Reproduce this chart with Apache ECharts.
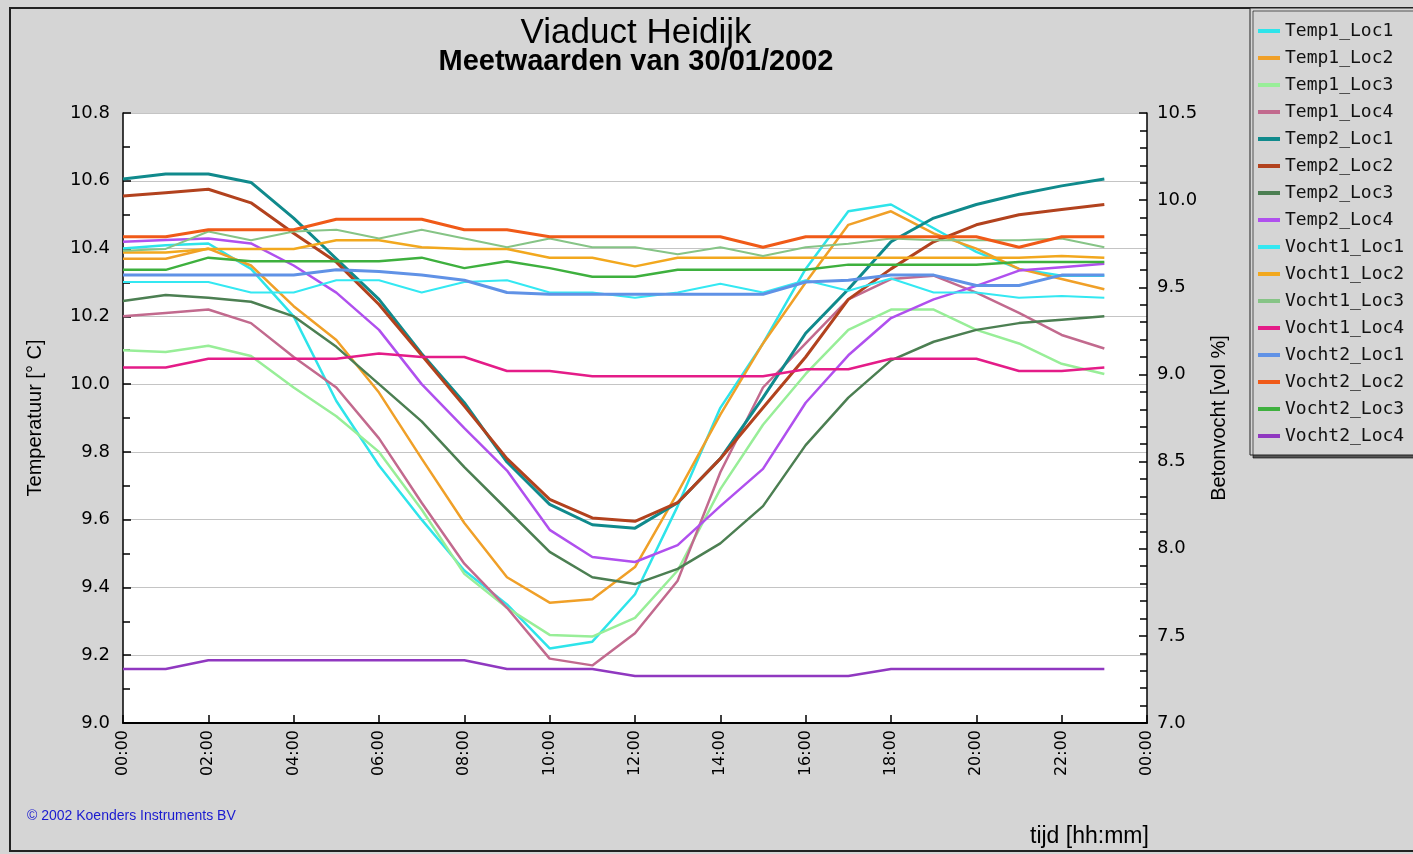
<!DOCTYPE html>
<html lang="nl">
<head>
    <meta charset="UTF-8">
    <title>Viaduct Heidijk</title>
    <style>
        body { margin: 0; background: #d5d5d5; }
        #chart { width: 1413px; height: 854px; }
    </style>
</head>
<body>
    <div id="chart"></div>
    <script src="https://cdn.jsdelivr.net/npm/echarts@6.0.0/dist/echarts.min.js"></script>
    <script>
        // uren 0..23 (meetpunten)
        var hours = [0, 1, 2, 3, 4, 5, 6, 7, 8, 9, 10, 11, 12, 13, 14, 15, 16, 17, 18, 19, 20, 21, 22, 23];

        // temperatuur [° C] - linker as
        var temp1Loc1 = [10.40, 10.41, 10.415, 10.34, 10.20, 9.95, 9.76, 9.60, 9.45, 9.35, 9.22, 9.24, 9.38, 9.64, 9.93, 10.12, 10.34, 10.51, 10.53, 10.46, 10.39, 10.34, 10.32, 10.32];
        var temp1Loc2 = [10.37, 10.37, 10.40, 10.35, 10.23, 10.13, 9.975, 9.78, 9.59, 9.43, 9.355, 9.365, 9.46, 9.68, 9.91, 10.12, 10.30, 10.47, 10.51, 10.445, 10.40, 10.34, 10.31, 10.28];
        var temp1Loc3 = [10.10, 10.095, 10.113, 10.083, 9.99, 9.905, 9.80, 9.63, 9.44, 9.34, 9.26, 9.255, 9.31, 9.45, 9.69, 9.88, 10.03, 10.16, 10.22, 10.22, 10.16, 10.12, 10.06, 10.03];
        var temp1Loc4 = [10.20, 10.21, 10.22, 10.18, 10.08, 9.99, 9.84, 9.65, 9.47, 9.34, 9.19, 9.17, 9.265, 9.42, 9.74, 9.99, 10.12, 10.25, 10.31, 10.32, 10.27, 10.21, 10.145, 10.105];
        var temp2Loc1 = [10.605, 10.62, 10.62, 10.595, 10.49, 10.37, 10.25, 10.09, 9.945, 9.77, 9.645, 9.585, 9.575, 9.65, 9.78, 9.96, 10.15, 10.28, 10.42, 10.49, 10.53, 10.56, 10.585, 10.605];
        var temp2Loc2 = [10.555, 10.565, 10.575, 10.535, 10.445, 10.36, 10.235, 10.085, 9.935, 9.78, 9.66, 9.605, 9.595, 9.65, 9.78, 9.93, 10.08, 10.25, 10.34, 10.42, 10.47, 10.50, 10.515, 10.53];
        var temp2Loc3 = [10.245, 10.263, 10.255, 10.243, 10.20, 10.11, 10.0, 9.89, 9.755, 9.63, 9.505, 9.43, 9.41, 9.455, 9.53, 9.64, 9.82, 9.96, 10.07, 10.125, 10.16, 10.18, 10.19, 10.20];
        var temp2Loc4 = [10.42, 10.425, 10.43, 10.415, 10.35, 10.27, 10.16, 10.0, 9.87, 9.745, 9.57, 9.49, 9.475, 9.525, 9.64, 9.75, 9.945, 10.085, 10.195, 10.25, 10.29, 10.335, 10.345, 10.355];

        // betonvocht [vol %] - rechter as
        var vocht1Loc1 = [9.53, 9.53, 9.53, 9.47, 9.47, 9.54, 9.54, 9.47, 9.53, 9.54, 9.47, 9.47, 9.44, 9.47, 9.52, 9.47, 9.54, 9.48, 9.55, 9.47, 9.47, 9.44, 9.45, 9.44];
        var vocht1Loc2 = [9.70, 9.70, 9.72, 9.72, 9.72, 9.77, 9.77, 9.73, 9.72, 9.72, 9.67, 9.67, 9.62, 9.67, 9.67, 9.67, 9.67, 9.67, 9.67, 9.67, 9.67, 9.67, 9.68, 9.67];
        var vocht1Loc3 = [9.71, 9.72, 9.82, 9.77, 9.82, 9.83, 9.78, 9.83, 9.78, 9.73, 9.78, 9.73, 9.73, 9.69, 9.73, 9.68, 9.73, 9.75, 9.78, 9.77, 9.77, 9.77, 9.78, 9.73];
        var vocht1Loc4 = [9.04, 9.04, 9.09, 9.09, 9.09, 9.09, 9.12, 9.10, 9.10, 9.02, 9.02, 8.99, 8.99, 8.99, 8.99, 8.99, 9.03, 9.03, 9.09, 9.09, 9.09, 9.02, 9.02, 9.04];
        var vocht2Loc1 = [9.57, 9.57, 9.57, 9.57, 9.57, 9.60, 9.59, 9.57, 9.54, 9.47, 9.46, 9.46, 9.46, 9.46, 9.46, 9.46, 9.53, 9.54, 9.57, 9.57, 9.51, 9.51, 9.57, 9.57];
        var vocht2Loc2 = [9.79, 9.79, 9.83, 9.83, 9.83, 9.89, 9.89, 9.89, 9.83, 9.83, 9.79, 9.79, 9.79, 9.79, 9.79, 9.73, 9.79, 9.79, 9.79, 9.79, 9.79, 9.73, 9.79, 9.79];
        var vocht2Loc3 = [9.60, 9.60, 9.67, 9.65, 9.65, 9.65, 9.65, 9.67, 9.61, 9.65, 9.61, 9.56, 9.56, 9.60, 9.60, 9.60, 9.60, 9.63, 9.63, 9.63, 9.63, 9.645, 9.645, 9.645];
        var vocht2Loc4 = [7.31, 7.31, 7.36, 7.36, 7.36, 7.36, 7.36, 7.36, 7.36, 7.31, 7.31, 7.31, 7.27, 7.27, 7.27, 7.27, 7.27, 7.27, 7.31, 7.31, 7.31, 7.31, 7.31, 7.31];

        var seriesNames = ['Temp1_Loc1', 'Temp1_Loc2', 'Temp1_Loc3', 'Temp1_Loc4', 'Temp2_Loc1', 'Temp2_Loc2', 'Temp2_Loc3', 'Temp2_Loc4',
            'Vocht1_Loc1', 'Vocht1_Loc2', 'Vocht1_Loc3', 'Vocht1_Loc4', 'Vocht2_Loc1', 'Vocht2_Loc2', 'Vocht2_Loc3', 'Vocht2_Loc4'];
        var seriesValues = [temp1Loc1, temp1Loc2, temp1Loc3, temp1Loc4, temp2Loc1, temp2Loc2, temp2Loc3, temp2Loc4,
            vocht1Loc1, vocht1Loc2, vocht1Loc3, vocht1Loc4, vocht2Loc1, vocht2Loc2, vocht2Loc3, vocht2Loc4];
        var seriesColors = ['#2ee4ea', '#f0a028', '#98ee98', '#c26a8e', '#108a8c', '#b2421e', '#4c7f52', '#b050ee',
            '#34e8f2', '#f2a81e', '#86c486', '#e41c88', '#6092e6', '#f05a18', '#3eb03e', '#9038c0'];
        var seriesWidths = [2.5, 2.5, 2.5, 2.5, 3, 3, 2.5, 2.5, 2, 2.5, 2, 2.5, 3, 3, 2.5, 2.5];

        var series = seriesNames.map(function (name, i) {
            return {
                name: name,
                type: 'line',
                yAxisIndex: name.indexOf('Vocht') === 0 ? 1 : 0,
                showSymbol: false,
                animation: false,
                color: seriesColors[i],
                lineStyle: { width: seriesWidths[i], color: seriesColors[i] },
                data: seriesValues[i].map(function (v, k) { return [hours[k], v]; })
            };
        });

        function pad(n) { return (n < 10 ? '0' : '') + n; }

        var font = 'DejaVu Sans';
        var mCharts = echarts.init(document.getElementById('chart'));
        var option = {
            backgroundColor: '#d5d5d5',
            title: {
                text: 'Viaduct Heidijk',
                subtext: 'Meetwaarden van 30/01/2002',
                left: 636,
                top: 16,
                textAlign: 'center',
                padding: 0,
                itemGap: -4,
                textStyle: { fontFamily: 'Liberation Sans', fontSize: 35, fontWeight: 'normal', color: '#000' },
                subtextStyle: { fontFamily: 'Liberation Sans', fontSize: 29, fontWeight: 'bold', color: '#000' }
            },
            legend: {
                orient: 'vertical',
                left: 1250,
                top: 8,
                padding: [14, 12, 10, 8],
                itemGap: 9,
                itemWidth: 22,
                itemHeight: 4,
                itemTextGap: 6,
                icon: 'rect',
                backgroundColor: '#d5d5d5',
                borderColor: '#222',
                borderWidth: 1,
                shadowColor: 'rgba(0,0,0,0.6)',
                shadowOffsetX: 3,
                shadowOffsetY: 3,
                shadowBlur: 0,
                selectedMode: false,
                textStyle: { fontFamily: 'DejaVu Sans Mono', fontSize: 18, lineHeight: 16, color: '#111' },
                data: seriesNames
            },
            grid: {
                left: 123,
                top: 113,
                width: 1024,
                height: 610,
                show: true,
                backgroundColor: '#fff',
                borderWidth: 0
            },
            xAxis: {
                type: 'value',
                min: 0,
                max: 24,
                interval: 2,
                axisLine: { lineStyle: { color: '#000', width: 2 } },
                axisTick: { inside: true, length: 8, lineStyle: { color: '#000', width: 1.5 } },
                splitLine: { show: false },
                axisLabel: {
                    rotate: 90,
                    margin: 7,
                    fontFamily: font,
                    fontSize: 16,
                    color: '#000',
                    formatter: function (v) { return pad(v % 24) + ':00'; }
                }
            },
            yAxis: [
                {
                    type: 'value',
                    min: 9.0,
                    max: 10.8,
                    interval: 0.2,
                    name: 'Temperatuur [° C]',
                    nameLocation: 'middle',
                    nameRotate: 90,
                    nameGap: 78,
                    nameTextStyle: { fontFamily: 'Liberation Sans', fontSize: 20, color: '#000' },
                    axisLine: { show: true, lineStyle: { color: '#000', width: 1.5 } },
                    axisTick: { show: true, inside: true, length: 8, lineStyle: { color: '#000', width: 1.5 } },
                    minorTick: { show: true, splitNumber: 2, length: 7, lineStyle: { color: '#000', width: 1.5 } },
                    splitLine: { show: true, lineStyle: { color: '#c4c4c4', width: 1 } },
                    axisLabel: {
                        margin: 13,
                        fontFamily: font,
                        fontSize: 18,
                        color: '#000',
                        formatter: function (v) { return v.toFixed(1); }
                    }
                },
                {
                    type: 'value',
                    min: 7.0,
                    max: 10.5,
                    interval: 0.5,
                    position: 'right',
                    name: 'Betonvocht [vol %]',
                    nameLocation: 'middle',
                    nameRotate: 90,
                    nameGap: 62,
                    nameTextStyle: { fontFamily: 'Liberation Sans', fontSize: 20, color: '#000' },
                    axisLine: { show: true, lineStyle: { color: '#000', width: 1.5 } },
                    axisTick: { show: true, inside: true, length: 8, lineStyle: { color: '#000', width: 1.5 } },
                    minorTick: { show: true, splitNumber: 5, length: 7, lineStyle: { color: '#000', width: 1.5 } },
                    splitLine: { show: false },
                    axisLabel: {
                        margin: 10,
                        fontFamily: font,
                        fontSize: 18,
                        color: '#000',
                        formatter: function (v) { return v.toFixed(1); }
                    }
                }
            ],
            graphic: [
                {
                    type: 'rect',
                    z: -1,
                    silent: true,
                    shape: { x: 10, y: 8, width: 1450, height: 843 },
                    style: { fill: 'none', stroke: '#222', lineWidth: 2 }
                },
                {
                    type: 'text',
                    left: 27,
                    top: 809,
                    style: { text: '© 2002 Koenders Instruments BV', fill: '#1a1ad0', font: '14px "Liberation Sans"' }
                },
                {
                    type: 'text',
                    left: 1030,
                    top: 825,
                    style: { text: 'tijd [hh:mm]', fill: '#000', font: '23px "Liberation Sans"' }
                }
            ],
            series: series
        };
        mCharts.setOption(option);
    </script>
</body>
</html>
